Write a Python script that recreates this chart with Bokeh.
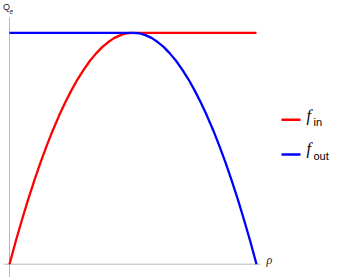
from bokeh.plotting import figure
from bokeh.models import Range1d, Label
from bokeh.embed import file_html
from bokeh.resources import INLINE

# data
rho = [0.0, 0.025, 0.05, 0.075, 0.1, 0.125, 0.15, 0.175, 0.2, 0.225, 0.25,
       0.275, 0.3, 0.325, 0.35, 0.375, 0.4, 0.425, 0.45, 0.475, 0.5,
       0.525, 0.55, 0.575, 0.6, 0.625, 0.65, 0.675, 0.7, 0.725, 0.75,
       0.775, 0.8, 0.825, 0.85, 0.875, 0.9, 0.925, 0.95, 0.975, 1.0]
f_in = [0.0, 0.098, 0.19, 0.278, 0.36, 0.438, 0.51, 0.578, 0.64, 0.698, 0.75,
        0.798, 0.84, 0.878, 0.91, 0.938, 0.96, 0.978, 0.99, 0.998, 1.0,
        1.0, 1.0, 1.0, 1.0, 1.0, 1.0, 1.0, 1.0, 1.0, 1.0,
        1.0, 1.0, 1.0, 1.0, 1.0, 1.0, 1.0, 1.0, 1.0, 1.0]
f_out = [1.0, 1.0, 1.0, 1.0, 1.0, 1.0, 1.0, 1.0, 1.0, 1.0, 1.0,
         1.0, 1.0, 1.0, 1.0, 1.0, 1.0, 1.0, 1.0, 1.0, 1.0,
         0.998, 0.99, 0.978, 0.96, 0.938, 0.91, 0.878, 0.84, 0.798, 0.75,
         0.698, 0.64, 0.578, 0.51, 0.438, 0.36, 0.278, 0.19, 0.098, 0.0]
series_names = ["in", "out"]
series_colors = ["#ff0000", "#0000ff"]

W, H = 339, 277
# page px -> data
def dx(px):
    return (px - 9) / 247.0

def dy(py):
    return (263.7 - py) / 231.4

p = figure(width=W, height=H, output_backend="svg", toolbar_location=None,
           x_range=Range1d(dx(0), dx(W)), y_range=Range1d(dy(H), dy(0)),
           x_axis_location=None, y_axis_location=None, min_border=0)
p.grid.visible = False
p.outline_line_color = None
p.background_fill_color = "white"
p.border_fill_color = "white"

axc = "#b8b8b8"
p.line([dx(3), dx(260)], [0, 0], line_color=axc, line_width=1)
p.line([0, 0], [dy(280), dy(17)], line_color=axc, line_width=1)

p.line(rho, f_in, line_color=series_colors[0], line_width=2.3)
p.line(rho, f_out, line_color=series_colors[1], line_width=2.3)

# axis labels
p.add_layout(Label(x=dx(2.5), y=dy(11.5), text="Q", text_font="Liberation Sans",
                   text_font_size="9px", text_color="#222222"))
p.add_layout(Label(x=dx(9), y=dy(13), text="e", text_font="Liberation Sans",
                   text_font_style="italic", text_font_size="6.5px", text_color="#222222"))
p.add_layout(Label(x=dx(266), y=dy(266.5), text="ρ", text_font="Liberation Serif",
                   text_font_style="italic", text_font_size="12px", text_color="#222222"))

# legend
leg_y = [119.3, 154.0]
f_base = [123.0, 156.5]
sub_base = [127.5, 161.3]
for i in range(2):
    p.line([dx(281), dx(300)], [dy(leg_y[i]), dy(leg_y[i])],
           line_color=series_colors[i], line_width=2.5)
    p.add_layout(Label(x=dx(306), y=dy(f_base[i]), text="f", text_font="Liberation Serif",
                       text_font_style="italic", text_font_size="16px", text_color="black"))
    p.add_layout(Label(x=dx(313), y=dy(sub_base[i]), text=series_names[i],
                       text_font="Liberation Sans", text_font_size="11px", text_color="black"))

open("out.html", "w").write(file_html(p, INLINE))
